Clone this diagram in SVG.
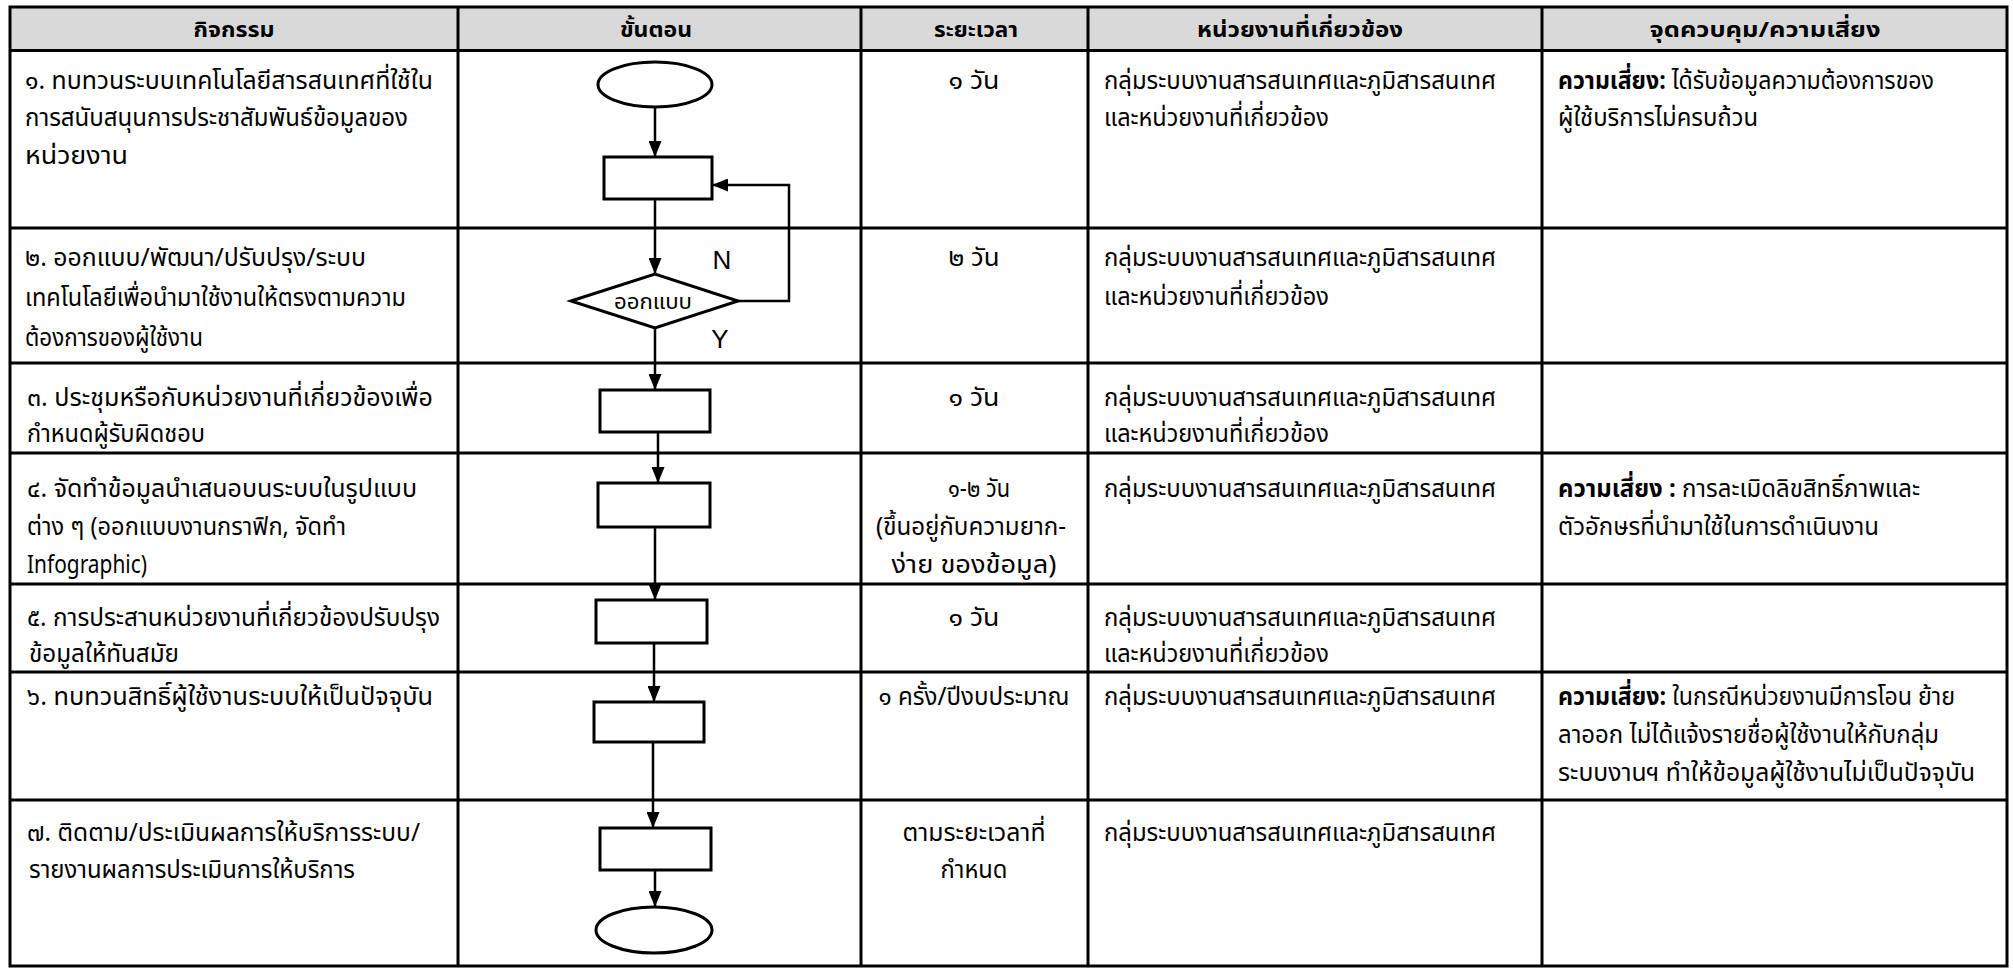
<svg xmlns="http://www.w3.org/2000/svg" width="2013" height="968" viewBox="0 0 2013 968">
<defs>
<style>
.grid{stroke:#000;stroke-width:3;fill:none}
.hdr{fill:#d9d9d9}
.th{font-family:"Noto Sans Thai","Noto Sans Thai UI","Noto Sans",sans-serif;font-size:22px;font-weight:bold;fill:#000;text-anchor:middle}
.t{font-family:"Noto Sans Thai","Noto Sans Thai UI","Noto Sans",sans-serif;font-size:25px;fill:#000}
.c{text-anchor:middle}
.b{font-weight:bold}
.shape{fill:#fff;stroke:#000;stroke-width:3}
.conn{fill:none;stroke:#000;stroke-width:2.5}
.lbl{font-family:"Liberation Sans",Arial,sans-serif;font-size:26px;fill:#000;text-anchor:middle}
.dl{font-family:"Noto Sans Thai","Noto Sans Thai UI","Noto Sans",sans-serif;font-size:22px;fill:#000;text-anchor:middle}
</style>
<marker id="arr" markerWidth="16" markerHeight="13" refX="16" refY="6.5" orient="auto" markerUnits="userSpaceOnUse"><path d="M0,0 L16,6.5 L0,13 z" fill="#000"/></marker>
</defs>
<rect width="2013" height="968" fill="#fff"/>
<g id="table">
<rect class="hdr" x="10" y="7" width="1997" height="43.5"/>
<rect class="grid" x="10" y="7" width="1997" height="959"/>
<path class="grid" d="M458,7V966 M861,7V966 M1088,7V966 M1542,7V966 M10,50.5H2007 M10,228H2007 M10,363H2007 M10,453H2007 M10,584H2007 M10,672H2007 M10,800H2007"/>
</g>
<g id="header">
<text class="th" x="234" y="37" textLength="81" lengthAdjust="spacingAndGlyphs">กิจกรรม</text>
<text class="th" x="656" y="37" textLength="72" lengthAdjust="spacingAndGlyphs">ขั้นตอน</text>
<text class="th" x="976" y="37" textLength="84" lengthAdjust="spacingAndGlyphs">ระยะเวลา</text>
<text class="th" x="1300" y="37" textLength="206" lengthAdjust="spacingAndGlyphs">หน่วยงานที่เกี่ยวข้อง</text>
<text class="th" x="1765" y="37" textLength="231" lengthAdjust="spacingAndGlyphs">จุดควบคุม/ความเสี่ยง</text>
</g>
<g id="row1">
<text class="t" x="25" y="89" textLength="408" lengthAdjust="spacingAndGlyphs">๑. ทบทวนระบบเทคโนโลยีสารสนเทศที่ใช้ใน</text>
<text class="t" x="25" y="126" textLength="383" lengthAdjust="spacingAndGlyphs">การสนับสนุนการประชาสัมพันธ์ข้อมูลของ</text>
<text class="t" x="25" y="164" textLength="103" lengthAdjust="spacingAndGlyphs">หน่วยงาน</text>
<text class="t c" x="974" y="89" textLength="51" lengthAdjust="spacingAndGlyphs">๑ วัน</text>
<text class="t" x="1104" y="89" textLength="392" lengthAdjust="spacingAndGlyphs">กลุ่มระบบงานสารสนเทศและภูมิสารสนเทศ</text>
<text class="t" x="1104" y="126" textLength="225" lengthAdjust="spacingAndGlyphs">และหน่วยงานที่เกี่ยวข้อง</text>
<text class="t" x="1558" y="89" textLength="376" lengthAdjust="spacingAndGlyphs"><tspan class="b">ความเสี่ยง:</tspan> ได้รับข้อมูลความต้องการของ</text>
<text class="t" x="1558" y="126" textLength="200" lengthAdjust="spacingAndGlyphs">ผู้ใช้บริการไม่ครบถ้วน</text>
</g>
<g id="row2">
<text class="t" x="25" y="266" textLength="341" lengthAdjust="spacingAndGlyphs">๒. ออกแบบ/พัฒนา/ปรับปรุง/ระบบ</text>
<text class="t" x="25" y="306" textLength="381" lengthAdjust="spacingAndGlyphs">เทคโนโลยีเพื่อนำมาใช้งานให้ตรงตามความ</text>
<text class="t" x="25" y="346" textLength="178" lengthAdjust="spacingAndGlyphs">ต้องการของผู้ใช้งาน</text>
<text class="t c" x="974" y="266" textLength="51" lengthAdjust="spacingAndGlyphs">๒ วัน</text>
<text class="t" x="1104" y="266" textLength="392" lengthAdjust="spacingAndGlyphs">กลุ่มระบบงานสารสนเทศและภูมิสารสนเทศ</text>
<text class="t" x="1104" y="305" textLength="225" lengthAdjust="spacingAndGlyphs">และหน่วยงานที่เกี่ยวข้อง</text>
</g>
<g id="row3">
<text class="t" x="27" y="406" textLength="406" lengthAdjust="spacingAndGlyphs">๓. ประชุมหรือกับหน่วยงานที่เกี่ยวข้องเพื่อ</text>
<text class="t" x="27" y="442" textLength="178" lengthAdjust="spacingAndGlyphs">กำหนดผู้รับผิดชอบ</text>
<text class="t c" x="974" y="406" textLength="51" lengthAdjust="spacingAndGlyphs">๑ วัน</text>
<text class="t" x="1104" y="406" textLength="392" lengthAdjust="spacingAndGlyphs">กลุ่มระบบงานสารสนเทศและภูมิสารสนเทศ</text>
<text class="t" x="1104" y="442" textLength="225" lengthAdjust="spacingAndGlyphs">และหน่วยงานที่เกี่ยวข้อง</text>
</g>
<g id="row4">
<text class="t" x="27" y="497" textLength="390" lengthAdjust="spacingAndGlyphs">๔. จัดทำข้อมูลนำเสนอบนระบบในรูปแบบ</text>
<text class="t" x="27" y="535" textLength="319" lengthAdjust="spacingAndGlyphs">ต่าง ๆ (ออกแบบงานกราฟิก, จัดทำ</text>
<text class="t" x="27" y="573" textLength="120" lengthAdjust="spacingAndGlyphs">Infographic)</text>
<text class="t c" x="979" y="497" textLength="62" lengthAdjust="spacingAndGlyphs">๑-๒ วัน</text>
<text class="t c" x="971" y="535" textLength="190" lengthAdjust="spacingAndGlyphs">(ขึ้นอยู่กับความยาก-</text>
<text class="t c" x="974" y="573" textLength="165" lengthAdjust="spacingAndGlyphs">ง่าย ของข้อมูล)</text>
<text class="t" x="1104" y="497" textLength="392" lengthAdjust="spacingAndGlyphs">กลุ่มระบบงานสารสนเทศและภูมิสารสนเทศ</text>
<text class="t" x="1558" y="497" textLength="362" lengthAdjust="spacingAndGlyphs"><tspan class="b">ความเสี่ยง :</tspan> การละเมิดลิขสิทธิ์ภาพและ</text>
<text class="t" x="1558" y="535" textLength="321" lengthAdjust="spacingAndGlyphs">ตัวอักษรที่นำมาใช้ในการดำเนินงาน</text>
</g>
<g id="row5">
<text class="t" x="27" y="626" textLength="413" lengthAdjust="spacingAndGlyphs">๕. การประสานหน่วยงานที่เกี่ยวข้องปรับปรุง</text>
<text class="t" x="29" y="662" textLength="150" lengthAdjust="spacingAndGlyphs">ข้อมูลให้ทันสมัย</text>
<text class="t c" x="974" y="626" textLength="51" lengthAdjust="spacingAndGlyphs">๑ วัน</text>
<text class="t" x="1104" y="626" textLength="392" lengthAdjust="spacingAndGlyphs">กลุ่มระบบงานสารสนเทศและภูมิสารสนเทศ</text>
<text class="t" x="1104" y="662" textLength="225" lengthAdjust="spacingAndGlyphs">และหน่วยงานที่เกี่ยวข้อง</text>
</g>
<g id="row6">
<text class="t" x="27" y="705" textLength="406" lengthAdjust="spacingAndGlyphs">๖. ทบทวนสิทธิ์ผู้ใช้งานระบบให้เป็นปัจจุบัน</text>
<text class="t c" x="974" y="705" textLength="191" lengthAdjust="spacingAndGlyphs">๑ ครั้ง/ปีงบประมาณ</text>
<text class="t" x="1104" y="705" textLength="392" lengthAdjust="spacingAndGlyphs">กลุ่มระบบงานสารสนเทศและภูมิสารสนเทศ</text>
<text class="t" x="1558" y="705" textLength="397" lengthAdjust="spacingAndGlyphs"><tspan class="b">ความเสี่ยง:</tspan> ในกรณีหน่วยงานมีการโอน ย้าย</text>
<text class="t" x="1558" y="743" textLength="381" lengthAdjust="spacingAndGlyphs">ลาออก ไม่ได้แจ้งรายชื่อผู้ใช้งานให้กับกลุ่ม</text>
<text class="t" x="1558" y="781" textLength="417" lengthAdjust="spacingAndGlyphs">ระบบงานฯ ทำให้ข้อมูลผู้ใช้งานไม่เป็นปัจจุบัน</text>
</g>
<g id="row7">
<text class="t" x="27" y="841" textLength="393" lengthAdjust="spacingAndGlyphs">๗. ติดตาม/ประเมินผลการให้บริการระบบ/</text>
<text class="t" x="29" y="878" textLength="326" lengthAdjust="spacingAndGlyphs">รายงานผลการประเมินการให้บริการ</text>
<text class="t c" x="974" y="841" textLength="143" lengthAdjust="spacingAndGlyphs">ตามระยะเวลาที่</text>
<text class="t c" x="974" y="878" textLength="67" lengthAdjust="spacingAndGlyphs">กำหนด</text>
<text class="t" x="1104" y="841" textLength="392" lengthAdjust="spacingAndGlyphs">กลุ่มระบบงานสารสนเทศและภูมิสารสนเทศ</text>
</g>
<g id="connectors">
<path class="conn" marker-end="url(#arr)" d="M655,107V157"/>
<path class="conn" marker-end="url(#arr)" d="M655,199V274"/>
<path class="conn" marker-end="url(#arr)" d="M738,301H789V185H712"/>
<path class="conn" marker-end="url(#arr)" d="M655,328V390"/>
<path class="conn" marker-end="url(#arr)" d="M658,432V483"/>
<path class="conn" marker-end="url(#arr)" d="M655,527V600"/>
<path class="conn" marker-end="url(#arr)" d="M654,643V702"/>
<path class="conn" marker-end="url(#arr)" d="M653,742V828"/>
<path class="conn" marker-end="url(#arr)" d="M655,870V907"/>
<text class="lbl" x="722" y="269">N</text>
<text class="lbl" x="720" y="348">Y</text>
</g>
<g id="start"><ellipse class="shape" cx="655" cy="84.5" rx="57" ry="22.5"/></g>
<g id="step1"><rect class="shape" x="604" y="157" width="108" height="42"/></g>
<g id="decision"><polygon class="shape" points="571,301 655,274 738,301 655,328"/><text class="dl" x="653" y="309" textLength="78" lengthAdjust="spacingAndGlyphs">ออกแบบ</text></g>
<g id="step3"><rect class="shape" x="600" y="390" width="110" height="42"/></g>
<g id="step4"><rect class="shape" x="598" y="483" width="112" height="44"/></g>
<g id="step5"><rect class="shape" x="596" y="600" width="111" height="43"/></g>
<g id="step6"><rect class="shape" x="594" y="702" width="110" height="40"/></g>
<g id="step7"><rect class="shape" x="600" y="828" width="111" height="42"/></g>
<g id="end"><ellipse class="shape" cx="654" cy="930" rx="58" ry="23"/></g>
</svg>
